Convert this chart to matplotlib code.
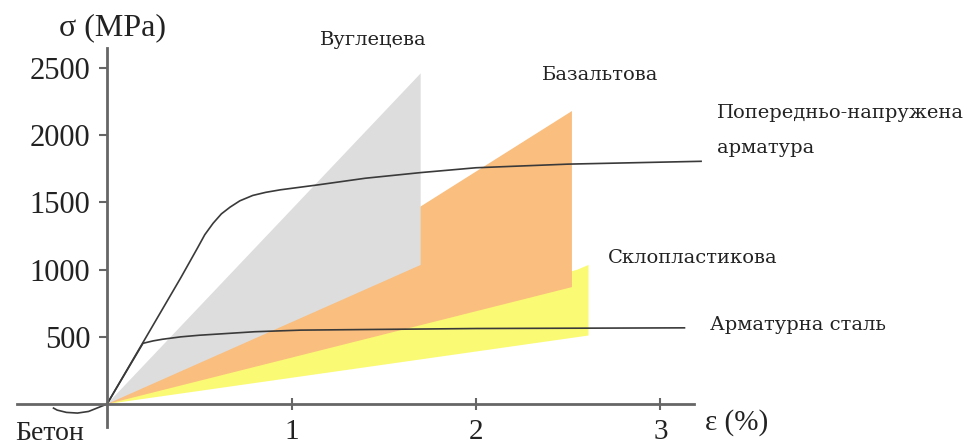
import numpy as np
import matplotlib.pyplot as plt

# zones (eps in %, sigma in MPa)
carbon_eps = [0, 1.70, 1.70]
carbon_sig = [0, 2460, 1035]
basalt_eps = [0, 1.70, 2.52, 2.52]
basalt_sig = [0, 1470, 2180, 870]
glass_eps = [0, 2.55, 2.61, 2.61]
glass_sig = [0, 1000, 1035, 510]

# curves
prestress_eps = [0, 0.2, 0.4, 0.49, 0.53, 0.575, 0.62, 0.667, 0.72, 0.79, 0.86, 0.94,
                 1.14, 1.4, 1.7, 2.0, 2.5, 3.22]
prestress_sig = [0, 470, 940, 1160, 1260, 1345, 1415, 1465, 1512, 1552, 1575, 1594,
                 1630, 1680, 1722, 1758, 1785, 1806]
steel_eps = [0, 0.195, 0.25, 0.3, 0.4, 0.5, 0.8, 1.05, 2.0, 3.13]
steel_sig = [0, 452, 470, 482, 500, 512, 538, 550, 562, 567]
concrete_eps = [0, -0.04, -0.1, -0.16, -0.22, -0.27, -0.29]
concrete_sig = [0, -22, -55, -67, -62, -45, -30]

yticks = [500, 1000, 1500, 2000, 2500]
xticks = [1, 2, 3]

plt.rcParams['font.family'] = ['Liberation Serif', 'DejaVu Serif']

fig = plt.figure(figsize=(9.71, 4.46), dpi=100)
ax = fig.add_axes([0, 0, 1, 1])
ax.set_xlim(-0.58, 4.683)
ax.set_ylim(-312, 3006)

ax.fill(basalt_eps, basalt_sig, color='#fabe7e', lw=0, zorder=1)
ax.fill(glass_eps, glass_sig, color='#fbfa74', lw=0, zorder=0.5)
ax.fill(carbon_eps, carbon_sig, color='#dddddd', lw=0, zorder=2)

lc = '#3a3a3a'
ax.plot(prestress_eps, prestress_sig, color=lc, lw=1.2, zorder=3)
ax.plot(steel_eps, steel_sig, color=lc, lw=1.2, zorder=3)
ax.plot(concrete_eps, concrete_sig, color=lc, lw=1.2, zorder=3)

for s in ['top', 'right']:
    ax.spines[s].set_visible(False)
ax.spines['left'].set_position(('data', 0))
ax.spines['bottom'].set_position(('data', 0))
ax.spines['left'].set_bounds(-170, 2650)
ax.spines['bottom'].set_bounds(-0.49, 3.18)
for s in ['left', 'bottom']:
    ax.spines[s].set_color('#666666')
    ax.spines[s].set_linewidth(2)
    ax.spines[s].set_zorder(4)

ax.set_yticks(yticks)
ax.set_xticks(xticks)
ax.tick_params(axis='y', direction='out', length=6, width=1.5, color='#666666',
               labelsize=22, pad=6, labelcolor='#222222')
ax.tick_params(axis='x', direction='inout', length=8, width=1.5, color='#666666',
               labelsize=21, pad=7, labelcolor='#222222')

ax.text(0.03, 2798, 'σ (MPa)', fontsize=23, color='#222222', ha='center', va='center')
ax.text(3.41, -141, 'ε (%)', fontsize=21, color='#222222', ha='center', va='center')
ax.text(-0.31, -268, 'Бетон', fontsize=20, color='#222222', ha='center', va='baseline')

lab = dict(fontsize=14, color='#222222', va='center', ha='left', family='DejaVu Serif')
ax.text(1.155, 2708, 'Вуглецева', **lab)
ax.text(2.36, 2448, 'Базальтова', **lab)
ax.text(3.306, 2165, 'Попередньо-напружена', **lab)
ax.text(3.306, 1905, 'арматура', **lab)
ax.text(2.715, 1086, 'Склопластикова', **lab)
ax.text(3.268, 588, 'Арматурна сталь', **lab)

fig.savefig('out.png', dpi=100)
